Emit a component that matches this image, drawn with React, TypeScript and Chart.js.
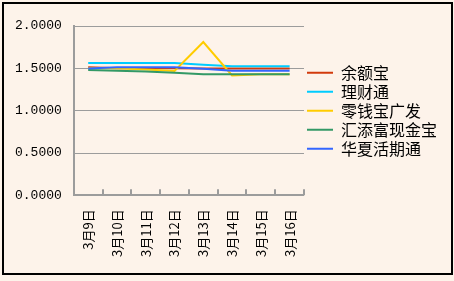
import React, { useEffect, useRef } from 'react';
import { Chart, registerables } from 'chart.js';

Chart.register(...registerables);

const categories = ['3月9日', '3月10日', '3月11日', '3月12日', '3月13日', '3月14日', '3月15日', '3月16日'];
const seriesNames = ['余额宝', '理财通', '零钱宝广发', '汇添富现金宝', '华夏活期通'];
const yuEBao = [1.514, 1.502, 1.5, 1.5, 1.499, 1.498, 1.498, 1.498];
const liCaiTong = [1.562, 1.562, 1.562, 1.562, 1.542, 1.524, 1.524, 1.524];
const lingQianBao = [1.5, 1.5, 1.485, 1.47, 1.81, 1.417, 1.431, 1.431];
const huiTianFu = [1.479, 1.472, 1.462, 1.447, 1.431, 1.431, 1.431, 1.431];
const huaXia = [1.497, 1.514, 1.514, 1.514, 1.495, 1.473, 1.473, 1.473];
const yTicks = [0, 0.5, 1, 1.5, 2];

const colors = ['#D23A0C', '#00CCFF', '#FFCC00', '#339966', '#3366FF'];
const BG = '#FDF3EA';
const AXIS = '#9C9C9C';

const innerTicks = {
  id: 'innerTicks',
  afterDraw(chart: any) {
    const xs = chart.scales.x;
    const ctx = chart.ctx;
    const w = xs.getPixelForValue(1) - xs.getPixelForValue(0);
    const y = xs.top;
    ctx.save();
    ctx.strokeStyle = AXIS;
    ctx.lineWidth = 2;
    for (let i = 0; i < categories.length; i++) {
      const x = Math.round(xs.getPixelForValue(i) + w / 2);
      ctx.beginPath();
      ctx.moveTo(x, y);
      ctx.lineTo(x, y - 6);
      ctx.stroke();
    }
    ctx.restore();
  },
};

export default function App() {
  const ref = useRef<HTMLCanvasElement | null>(null);
  useEffect(() => {
    if (!ref.current) return;
    const data = [yuEBao, liCaiTong, lingQianBao, huiTianFu, huaXia];
    const chart = new Chart(ref.current, {
      type: 'line',
      data: {
        labels: categories,
        datasets: seriesNames.map((name, i) => ({
          label: name,
          data: data[i],
          borderColor: colors[i],
          backgroundColor: colors[i],
          borderWidth: 2,
          pointRadius: 0,
          tension: 0,
          fill: false,
          order: seriesNames.length - i,
        })),
      },
      options: {
        animation: false,
        responsive: false,
        layout: { padding: { left: 3, right: 7, top: 26, bottom: 10 } },
        scales: {
          x: {
            offset: true,
            grid: { display: false, drawTicks: false },
            border: { color: AXIS, width: 2 },
            ticks: {
              minRotation: 90,
              maxRotation: 90,
              padding: 14,
              color: '#000',
              font: { family: '"Noto Sans CJK SC"', size: 13 },
            },
          },
          y: {
            min: 0,
            max: 2,
            afterBuildTicks: (axis: any) => {
              axis.ticks = yTicks.map((v) => ({ value: v }));
            },
            grid: { color: AXIS, lineWidth: 1, drawTicks: false },
            border: { color: AXIS, width: 2 },
            ticks: {
              padding: 12,
              color: '#000',
              font: { family: '"Liberation Mono"', size: 13 },
              callback: (v: any) => Number(v).toFixed(4),
            },
          },
        },
        plugins: {
          tooltip: { enabled: false },
          legend: {
            position: 'right',
            fullSize: false,
            maxWidth: 200,
            labels: {
              boxWidth: 26,
              boxHeight: 2,
              padding: 3,
              color: '#000',
              font: { family: '"Noto Sans CJK SC"', size: 16 },
              generateLabels: (c: any) =>
                c.data.datasets.map((ds: any, i: number) => ({
                  text: ds.label,
                  fillStyle: ds.borderColor,
                  strokeStyle: ds.borderColor,
                  lineWidth: 0,
                  hidden: false,
                  datasetIndex: i,
                  fontColor: '#000',
                })),
            },
          },
        },
      },
      plugins: [innerTicks],
    });
    return () => chart.destroy();
  }, []);

  return (
    <div style={{ position: 'fixed', left: 0, top: 0, width: 454, height: 281, background: BG }}>
      <canvas ref={ref} width={454} height={281} style={{ position: 'absolute', left: 0, top: 0, width: 454, height: 281 }} />
      <div
        style={{
          position: 'absolute',
          left: 2,
          top: 2,
          width: 451,
          height: 273,
          border: '2px solid #000',
          boxSizing: 'border-box',
          pointerEvents: 'none',
        }}
      />
    </div>
  );
}
